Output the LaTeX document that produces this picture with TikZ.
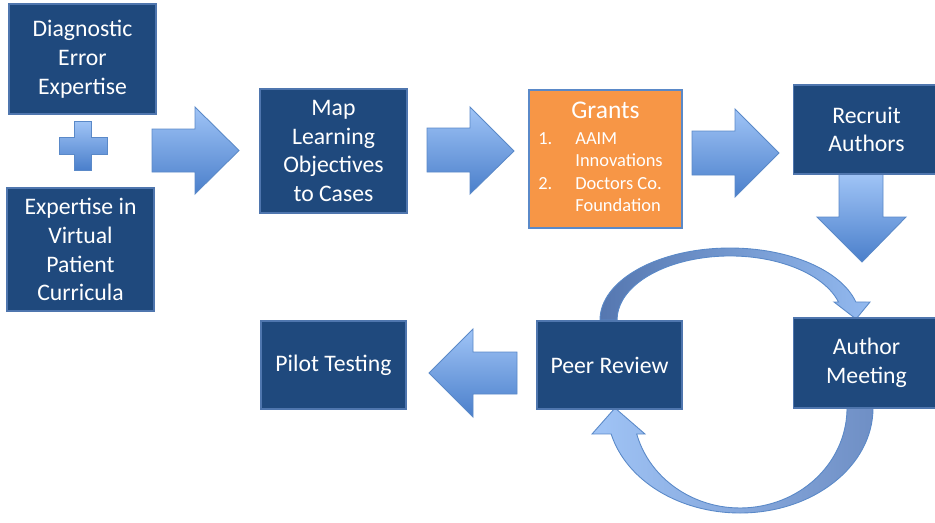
\documentclass[tikz,border=0pt]{standalone}
\usepackage{fontspec}
\setmainfont{Carlito}
\usetikzlibrary{calc}
\definecolor{boxblue}{HTML}{1F497D}
\definecolor{boxline}{HTML}{4F76AE}
\definecolor{grantorange}{HTML}{F79646}
\definecolor{arrowlight}{HTML}{A0C4F6}
\definecolor{arrowdark}{HTML}{4A7FCB}
\definecolor{arrowline}{HTML}{5A89C8}
\definecolor{arrowgrey}{HTML}{5577B0}
\definecolor{arrowslate}{HTML}{6F8FC5}
\tikzset{
  textbox/.style={fill=boxblue, draw=boxline, line width=0.6pt, text=white, align=center,
    inner sep=0pt, font=\fontsize{13.5}{16.4}\selectfont},
  grantbox/.style={fill=grantorange, draw=arrowline, line width=0.6pt, inner sep=0pt},
  blockarrow/.style={draw=arrowline, line width=0.5pt, top color=arrowlight, bottom color=arrowdark},
}

\begin{document}
\begin{tikzpicture}[x=0.02cm, y=0.02cm]
			%%%%% START %%%%%
			\useasboundingbox (0,0) rectangle (935,522);
			\clip (0,0) rectangle (935,522);
			
			% block arrows
			\draw[blockarrow] (152,350) -- (195,350) -- (195,328) -- (239,371.5) -- (195,415) -- (195,393) -- (152,393) -- cycle;
			\draw[blockarrow] (427,350) -- (470,350) -- (470,328) -- (514,371) -- (470,415) -- (470,394) -- (427,394) -- cycle;
			\draw[blockarrow] (692,347) -- (735,347) -- (735,325) -- (779,369) -- (735,413) -- (735,391) -- (692,391) -- cycle;
			\draw[blockarrow] (839,348) -- (839,305) -- (817,305) -- (862,260) -- (906,305) -- (883,305) -- (883,348) -- cycle;
			\draw[blockarrow] (517,170) -- (473,170) -- (473,193) -- (429,149) -- (473,105) -- (473,128) -- (517,128) -- cycle;
			
			% plus
			\draw[blockarrow] (74,401) -- (91,401) -- (91,385) -- (107,385) -- (107,368) -- (91,368) -- (91,352)
				-- (74,352) -- (74,368) -- (59,368) -- (59,385) -- (74,385) -- cycle;
			
			% curved arrows
			\draw[draw=arrowline, line width=0.5pt, left color=arrowgrey, right color=arrowlight!85!arrowdark]
				(600,202) arc[start angle=180, end angle=14.5, x radius=130, y radius=72]
				-- (870,220) -- (856,203) -- (834,220) -- (838.5,220)
				arc[start angle=16.3, end angle=180, x radius=113, y radius=64] -- cycle;
			\draw[draw=arrowline, line width=0.5pt, left color=arrowlight, middle color=arrowdark, right color=arrowslate]
				(873,114) arc[start angle=0, end angle=-165.7, x radius=133, y radius=105]
				-- (592,88) -- (615,114) -- (645,88) -- (636.7,88)
				arc[start angle=-164.9, end angle=0, x radius=107, y radius=100] -- cycle;
			
			% boxes
			\node[textbox, minimum width=2.94cm, minimum height=2.2cm] (diag) at (82.5,463) {Diagnostic\\Error\\Expertise};
			\node[textbox, minimum width=2.94cm, minimum height=2.46cm] (virt) at (80.5,272.5) {Expertise in\\Virtual\\Patient\\Curricula};
			\node[textbox, minimum width=2.94cm, minimum height=2.48cm] (map) at (333.5,371) {Map\\Learning\\Objectives\\to Cases};
			\node[grantbox, minimum width=3.06cm, minimum height=2.76cm] (grants) at (605.5,363) {};
			\node[textbox, minimum width=2.94cm, minimum height=1.78cm] (recruit) at (866.5,392.5) {Recruit\\Authors};
			\node[textbox, minimum width=2.94cm, minimum height=1.8cm] (meeting) at (866.5,159) {Author\\Meeting};
			\node[textbox, minimum width=2.9cm, minimum height=1.76cm] (peer) at (609.5,157) {Peer Review};
			\node[textbox, minimum width=2.9cm, minimum height=1.76cm] (pilot) at (333.5,157) {Pilot Testing};
			
			% grants text
			\node[text=white, inner sep=0pt, font=\fontsize{14.5}{17}\selectfont] (grantsttl) at ($(grants.north)+(0,-21)$) {Grants};
			\node[anchor=north west, inner sep=0pt, text=white, font=\fontsize{10.5}{12.8}\selectfont] (grantslist) at (538,394)
				{\begin{tabular}{@{}p{0.74cm}@{}l@{}}1.&AAIM\\ &Innovations\\ 2.&Doctors Co.\\ &Foundation\end{tabular}};
			
			%%%%% END %%%%%
\end{tikzpicture}
\end{document}
